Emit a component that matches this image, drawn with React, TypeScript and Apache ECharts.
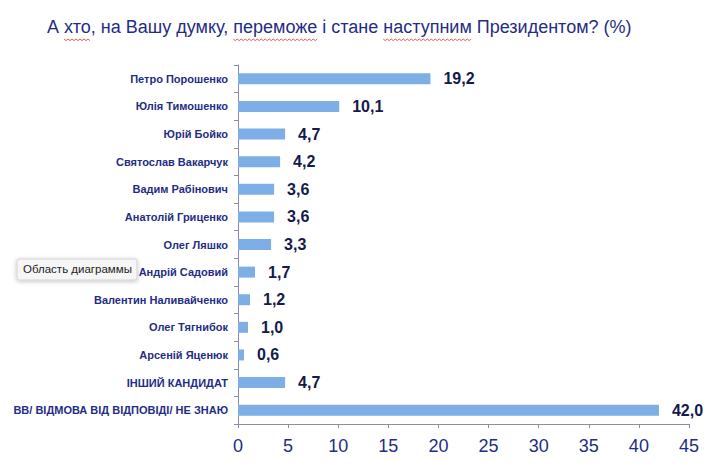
import React, { useEffect, useRef } from "react";
import * as echarts from "echarts";

const categories = [
  "Петро Порошенко",
  "Юлія Тимошенко",
  "Юрій Бойко",
  "Святослав Вакарчук",
  "Вадим Рабінович",
  "Анатолій Гриценко",
  "Олег Ляшко",
  "Андрій Садовий",
  "Валентин Наливайченко",
  "Олег Тягнибок",
  "Арсеній Яценюк",
  "ІНШИЙ КАНДИДАТ",
  "ВВ/ ВІДМОВА ВІД ВІДПОВІДІ/ НЕ ЗНАЮ",
];
const values = [19.2, 10.1, 4.7, 4.2, 3.6, 3.6, 3.3, 1.7, 1.2, 1.0, 0.6, 4.7, 42.0];
const xTicks = [0, 5, 10, 15, 20, 25, 30, 35, 40, 45];
const title = "А хто, на Вашу думку, переможе і стане наступним Президентом? (%)";
const misspelled = ["хто", "переможе", "наступним"];
const tooltipText = "Область диаграммы";

const FONT = "'Liberation Sans', Arial, sans-serif";

export default function App() {
  const ref = useRef<HTMLDivElement>(null);
  useEffect(() => {
    if (!ref.current) return;
    const chart = echarts.init(ref.current, undefined, { renderer: "svg" });
    const navy = "#1f2d84";
    const titleX = 39;
    const titleTop = 10;
    const titleFont = "18px " + FONT;

    // squiggly underlines (spell-check marks) measured from text
    const canvas = document.createElement("canvas");
    const ctx = canvas.getContext("2d")!;
    ctx.font = titleFont;
    const squiggles: any[] = [];
    misspelled.forEach((w) => {
      const idx = title.indexOf(w);
      const x0 = titleX + ctx.measureText(title.slice(0, idx)).width;
      const x1 = x0 + ctx.measureText(w).width;
      const pts: number[][] = [];
      const yBase = titleTop + 21;
      let k = 0;
      for (let x = x0; x <= x1; x += 2) {
        pts.push([x, yBase + (k % 2 === 0 ? 0 : 1.6)]);
        k++;
      }
      squiggles.push({
        type: "polyline",
        shape: { points: pts },
        style: { stroke: "#e8463c", lineWidth: 0.9, fill: "none" },
        z: 50,
      });
    });

    chart.setOption({
      animation: false,
      backgroundColor: "#ffffff",
      textStyle: { fontFamily: FONT },
      grid: { left: 230, right: 21, top: 57, bottom: 35, containLabel: false },
      xAxis: {
        type: "value",
        min: xTicks[0],
        max: xTicks[xTicks.length - 1],
        interval: 5,
        splitLine: { show: false },
        axisLine: { show: true, lineStyle: { color: "#8a8ab0", width: 1 } },
        axisTick: { show: true, length: 4, lineStyle: { color: "#8a8ab0" } },
        axisLabel: { color: navy, fontSize: 18, margin: 13, fontFamily: FONT },
      },
      yAxis: {
        type: "category",
        inverse: true,
        data: categories,
        axisLine: { show: true, lineStyle: { color: "#8a8ab0", width: 1 } },
        axisTick: { show: true, length: 4, lineStyle: { color: "#8a8ab0" } },
        axisLabel: {
          color: navy,
          fontSize: 11,
          fontWeight: "bold",
          margin: 10,
          fontFamily: FONT,
        },
      },
      series: [
        {
          type: "bar",
          data: values,
          barWidth: 11,
          itemStyle: { color: "#7eaee6" },
          label: {
            show: true,
            position: "right",
            distance: 13,
            color: "#141a4a",
            fontSize: 16,
            fontWeight: "bold",
            fontFamily: FONT,
            formatter: (p: any) => p.value.toFixed(1).replace(".", ","),
          },
        },
      ],
      graphic: [
        {
          type: "text",
          x: titleX,
          y: titleTop,
          style: {
            text: title,
            fill: navy,
            font: titleFont,
          },
        },
        ...squiggles,
        {
          type: "group",
          x: 9,
          y: 251,
          z: 100,
          children: [
            {
              type: "rect",
              shape: { x: 0, y: 0, width: 120, height: 21, r: 2 },
              style: {
                fill: "#f6f6f6",
                stroke: "#d4d4d4",
                lineWidth: 1,
                shadowBlur: 4,
                shadowColor: "rgba(0,0,0,0.25)",
                shadowOffsetY: 1,
              },
            },
            {
              type: "text",
              x: 6,
              y: 4,
              style: {
                text: tooltipText,
                fill: "#222222",
                font: "11.5px " + FONT,
              },
            },
          ],
        },
      ],
    });
    return () => chart.dispose();
  }, []);
  return <div ref={ref} style={{ width: 702, height: 451 }} />;
}
